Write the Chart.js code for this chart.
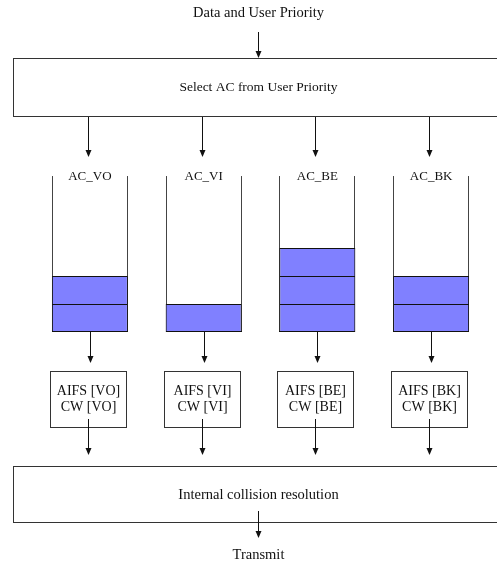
<!DOCTYPE html>
<html>
<head>
<meta charset="utf-8">
<script src="https://cdn.jsdelivr.net/npm/chart.js@4/dist/chart.umd.min.js"></script>
<style>
  html, body { margin: 0; padding: 0; background: #fff; }
  #wrap { width: 497px; height: 567px; position: relative; }
</style>
</head>
<body>
<div id="wrap"><canvas id="edcaChart"></canvas></div>
<script>
// access categories and how many frames sit in each queue
const acLabels = ['AC_VO', 'AC_VI', 'AC_BE', 'AC_BK'];
const queueDepth = [2, 1, 3, 2];
const aifsLabels = ['AIFS [VO]', 'AIFS [VI]', 'AIFS [BE]', 'AIFS [BK]'];
const cwLabels = ['CW [VO]', 'CW [VI]', 'CW [BE]', 'CW [BK]'];
const maxSlots = 3;
const queueCapacity = 5.57;

const SERIF = '"Liberation Serif", "Times New Roman", serif';
const FILL = '#8080ff';

// one stacked dataset per queue slot
const slotSets = [];
for (let k = 0; k < maxSlots; k++) {
  slotSets.push({
    label: 'slot ' + (k + 1),
    data: queueDepth.map(d => (d > k ? 1 : null)),
    backgroundColor: FILL,
    borderColor: '#111',
    borderWidth: 1,
    borderSkipped: 'start'
  });
}

function arrow(ctx, x, y1, y2) {
  ctx.beginPath();
  ctx.moveTo(x, y1);
  ctx.lineTo(x, y2 - 6);
  ctx.stroke();
  ctx.beginPath();
  ctx.moveTo(x - 3, y2 - 7);
  ctx.lineTo(x + 3, y2 - 7);
  ctx.lineTo(x, y2);
  ctx.closePath();
  ctx.fill();
}

function text(ctx, str, x, y, size) {
  ctx.font = size + 'px ' + SERIF;
  ctx.fillText(str, x, y);
}

const diagram = {
  id: 'diagram',
  beforeDatasetsDraw(chart) {
    const ctx = chart.ctx;
    const ys = chart.scales.y;
    const meta = chart.getDatasetMeta(0);
    const base = ys.getPixelForValue(0);
    const top = ys.getPixelForValue(queueCapacity);
    ctx.save();
    ctx.strokeStyle = '#444';
    ctx.lineWidth = 1;
    meta.data.forEach(bar => {
      const l = Math.round(bar.x - bar.width / 2) + 0.5;
      const r = Math.round(bar.x + bar.width / 2) - 0.5;
      ctx.beginPath();
      ctx.moveTo(l, top);
      ctx.lineTo(l, base);
      ctx.moveTo(r, top);
      ctx.lineTo(r, base);
      ctx.stroke();
    });
    ctx.restore();
  },
  afterDatasetsDraw(chart) {
    const ctx = chart.ctx;
    const ys = chart.scales.y;
    const meta = chart.getDatasetMeta(0);
    const base = ys.getPixelForValue(0);
    const midX = 258.5;
    ctx.save();
    ctx.fillStyle = '#111';
    ctx.strokeStyle = '#111';
    ctx.lineWidth = 1;
    ctx.textAlign = 'center';
    ctx.textBaseline = 'middle';

    text(ctx, 'Data and User Priority', midX, 13, 14.5);
    arrow(ctx, midX, 32, 58);

    ctx.strokeStyle = '#333';
    ctx.strokeRect(13.5, 58.5, 500, 58);
    text(ctx, 'Select AC from User Priority', midX, 87, 13.5);

    ctx.strokeRect(13.5, 466.5, 500, 56);
    text(ctx, 'Internal collision resolution', midX, 495, 14.5);
    ctx.strokeStyle = '#111';
    arrow(ctx, midX, 511, 538);
    text(ctx, 'Transmit', midX, 555, 14.5);

    meta.data.forEach((bar, i) => {
      const cx = Math.round(bar.x) + 0.5;
      const ax = cx - 2;
      // queue floor
      ctx.beginPath();
      ctx.moveTo(Math.round(bar.x - bar.width / 2), Math.round(base) - 0.5);
      ctx.lineTo(Math.round(bar.x + bar.width / 2), Math.round(base) - 0.5);
      ctx.stroke();
      arrow(ctx, ax, 117, 157);
      text(ctx, acLabels[i], bar.x, 177, 13);
      arrow(ctx, cx, base, 363);
      ctx.strokeStyle = '#333';
      ctx.strokeRect(ax - 38, 371.5, 76, 56);
      ctx.strokeStyle = '#111';
      text(ctx, aifsLabels[i], ax, 391, 14);
      text(ctx, cwLabels[i], ax, 407, 14);
      arrow(ctx, ax, 419, 455);
    });
    ctx.restore();
  }
};

new Chart(document.getElementById('edcaChart'), {
  type: 'bar',
  data: { labels: acLabels, datasets: slotSets },
  options: {
    responsive: true,
    maintainAspectRatio: false,
    animation: false,
    layout: { padding: { left: 33, right: 9, top: 0, bottom: 0 } },
    datasets: { bar: { barPercentage: 1, categoryPercentage: 0.668 } },
    plugins: { legend: { display: false }, tooltip: { enabled: false } },
    scales: {
      x: { stacked: true, display: false },
      y: { stacked: true, display: false, min: -8.393, max: 11.857 }
    }
  },
  plugins: [diagram]
});
</script>
</body>
</html>
